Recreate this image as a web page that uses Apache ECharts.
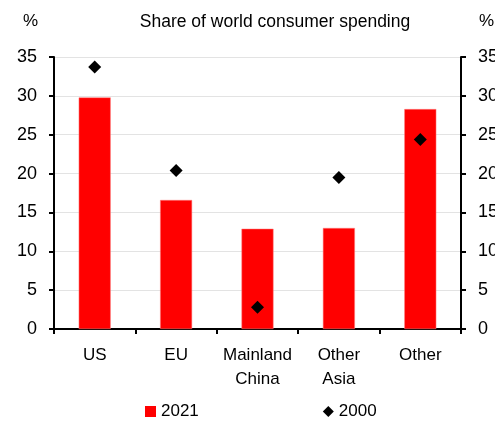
<!DOCTYPE html>
<html><head><meta charset="utf-8">
<script src="https://cdn.jsdelivr.net/npm/echarts@6/dist/echarts.min.js"></script>
<style>html,body{margin:0;padding:0;background:#fff}#c{width:495px;height:421px}</style>
</head><body><div id="c"></div>
<script>
const categories = ['US', 'EU', 'Mainland\nChina', 'Other\nAsia', 'Other'];
const share2021 = [29.8, 16.6, 12.9, 13.0, 28.3];
const share2000 = [33.7, 20.4, 2.8, 19.5, 24.4];
const yTicks = {min: 0, max: 35, interval: 5};
const FONT = "'Liberation Sans', Arial, sans-serif";
const chart = echarts.init(document.getElementById('c'), null, {renderer: 'canvas'});
const yAxisBase = (pos) => ({
  type: 'value', position: pos, min: yTicks.min, max: yTicks.max, interval: yTicks.interval,
  axisLine: {show: true, lineStyle: {color: '#000', width: 2}},
  axisTick: {show: true, length: 5, lineStyle: {color: '#000', width: 2}},
  axisLabel: {color: '#000', fontSize: 18, fontFamily: FONT, margin: 17},
  splitLine: {show: pos === 'left', lineStyle: {color: '#e3e3e3', width: 1}}
});
chart.setOption({
  animation: false,
  grid: {left: 54, right: 34, top: 57, bottom: 92, containLabel: false, outerBoundsMode: 'none'},
  title: [
    {text: 'Share of world consumer spending', left: 270, top: 8, textAlign: 'center',
     textStyle: {fontSize: 17.5, fontWeight: 'normal', color: '#000', fontFamily: FONT}},
    {text: '%', left: 18, top: 8, textStyle: {fontSize: 17, fontWeight: 'normal', color: '#000', fontFamily: FONT}},
    {text: '%', left: 474, top: 8, textStyle: {fontSize: 17, fontWeight: 'normal', color: '#000', fontFamily: FONT}}
  ],
  legend: {
    top: 398, left: 140, itemGap: 124, itemWidth: 11, itemHeight: 11,
    textStyle: {fontSize: 17, color: '#000', fontFamily: FONT},
    data: [{name: '2021', icon: 'rect', itemStyle: {borderWidth: 0}}, {name: '2000', icon: 'diamond'}]
  },
  xAxis: {
    type: 'category', data: categories,
    axisLine: {lineStyle: {color: '#000', width: 2}},
    axisTick: {show: true, interval: 0, length: 5, lineStyle: {color: '#000', width: 2}},
    axisLabel: {interval: 0, color: '#000', fontSize: 17, fontFamily: FONT, margin: 14, lineHeight: 24}
  },
  yAxis: [yAxisBase('left'), yAxisBase('right')],
  series: [
    {name: '2021', type: 'bar', data: share2021, barWidth: 32,
     itemStyle: {color: '#ff0000', borderColor: '#ff8080', borderWidth: 0.5}},
    {name: '2000', type: 'scatter', data: share2000, symbol: 'diamond', symbolSize: 13,
     itemStyle: {color: '#000', opacity: 1}}
  ]
});
</script></body></html>
